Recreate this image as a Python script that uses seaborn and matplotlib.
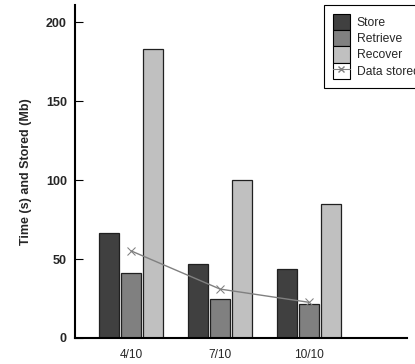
import numpy as np
import pandas as pd
import matplotlib
matplotlib.use("Agg")
import matplotlib.pyplot as plt
import seaborn as sns
from matplotlib.patches import Patch
from matplotlib.lines import Line2D
from matplotlib.legend_handler import HandlerTuple

# Configurations (k/n) and measured values
configs = ["4/10", "7/10", "10/10"]
store_s = [66.4, 47.0, 43.8]
retrieve_s = [41.0, 24.5, 21.6]
recover_s = [183.3, 100.0, 85.0]
data_stored_mb = [55.2, 31.0, 22.6]

phases = ["Store", "Retrieve", "Recover"]
phase_colors = ["#404040", "#808080", "#c0c0c0"]

sns.set_theme(style="white")
plt.rcParams["font.family"] = ["Liberation Sans", "DejaVu Sans"]

bars = pd.DataFrame({
    "config": configs * 3,
    "phase": np.repeat(phases, len(configs)),
    "time": store_s + retrieve_s + recover_s,
})
stored = pd.DataFrame({"config": configs, "stored": data_stored_mb})

fig = plt.figure(figsize=(4.15, 3.64), dpi=100)
ax = fig.add_axes([75 / 415, 1 - 338 / 364, (407 - 75) / 415, (338 - 5) / 364])

sns.barplot(data=bars, x="config", y="time", hue="phase", order=configs,
            hue_order=phases, palette=phase_colors, width=0.74, gap=0.09,
            edgecolor="#202020", linewidth=0.9, saturation=1, errorbar=None,
            legend=False, ax=ax)

sns.pointplot(data=stored, x="config", y="stored", order=configs,
              color="#808080", markers="x", markersize=6, linewidth=1,
              errorbar=None, ax=ax, zorder=5)
for coll in ax.collections:
    coll.set_zorder(6)

ax.set_xlim(-0.63, 3.1)
ax.set_ylim(0, 211)
ax.set_yticks([0, 50, 100, 150, 200])
ax.set_xlabel("")
ax.set_ylabel("Time (s) and Stored (Mb)", fontsize=9, fontweight="bold", labelpad=10)

for side in ["top", "right"]:
    ax.spines[side].set_visible(False)
for side in ["left", "bottom"]:
    ax.spines[side].set_color("black")
    ax.spines[side].set_linewidth(1.5)

ax.tick_params(axis="y", direction="in", length=6, width=0.8, color="black",
               pad=5.8, labelsize=9, left=True)
ax.tick_params(axis="x", length=0, pad=8, labelsize=8.6)
for lab in ax.get_yticklabels():
    lab.set_fontweight("bold")

handles = [Patch(facecolor=c, edgecolor="black", linewidth=0.8) for c in phase_colors]
handles.append((Patch(facecolor="white", edgecolor="black", linewidth=0.8),
                Line2D([], [], color="#808080", marker="x", markersize=5, linewidth=0.8)))
labels = phases + ["Data stored"]
leg = fig.legend(handles, labels, loc="upper left",
                 bbox_to_anchor=(324 / 415, 1 - 5 / 364),
                 bbox_transform=fig.transFigure, borderaxespad=0,
                 fontsize=8.7, frameon=True, fancybox=False, framealpha=1,
                 edgecolor="black", labelspacing=0.0, handleheight=1.7,
                 handlelength=1.45, handletextpad=0.55, borderpad=0.72,
                 handler_map={tuple: HandlerTuple(ndivide=1)})
leg.get_frame().set_linewidth(0.8)

fig.savefig("out.png", dpi=100)
